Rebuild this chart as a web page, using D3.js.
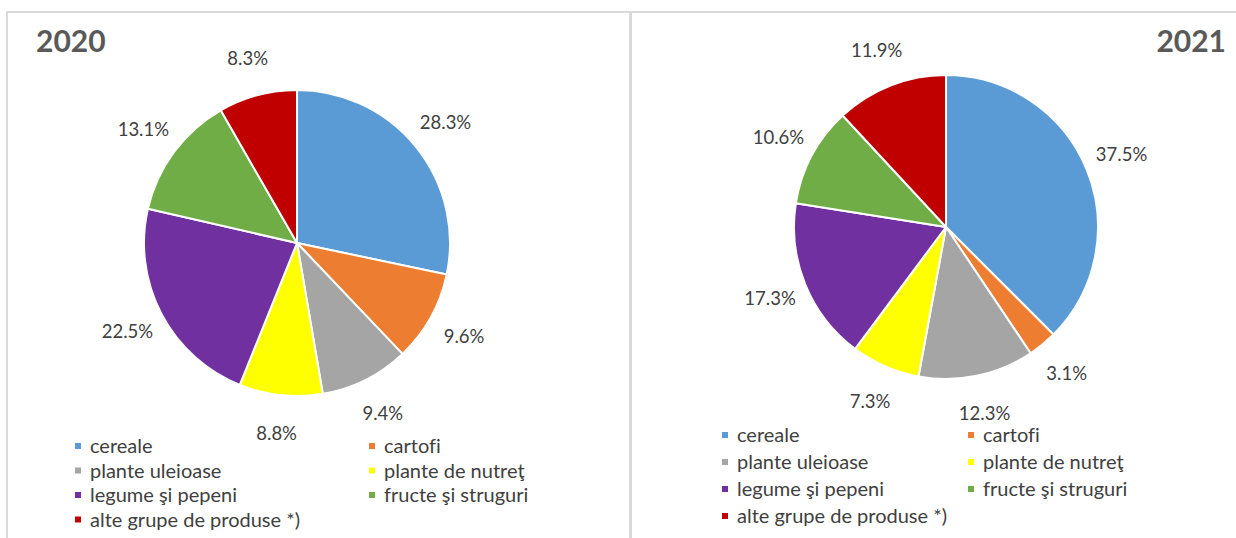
<!DOCTYPE html>
<html>
<head>
<meta charset="utf-8">
<script src="https://cdn.jsdelivr.net/npm/d3@7"></script>
<style>
  html, body { margin: 0; padding: 0; background: #fff; }
  svg { display: block; font-family: Lato, "Open Sans", sans-serif; font-variant-ligatures: none; }
</style>
</head>
<body>
<div id="chart"></div>
<script>
// Kategorien und Werte (Anteile in %)
const categories = ["cereale", "cartofi", "plante uleioase", "plante de nutreţ",
                    "legume şi pepeni", "fructe şi struguri", "alte grupe de produse *)"];
const values2020 = [28.3, 9.6, 9.4, 8.8, 22.5, 13.1, 8.3];
const values2021 = [37.5, 3.1, 12.3, 7.3, 17.3, 10.6, 11.9];
const years = ["2020", "2021"];
const colors = ["#5B9BD5", "#ED7D31", "#A5A5A5", "#FFFF00", "#7030A0", "#70AD47", "#C00000"];

const W = 1236, H = 538;
const svg = d3.select("#chart").append("svg")
    .attr("width", W).attr("height", H);

svg.append("rect").attr("width", W).attr("height", H).attr("fill", "#fff");

// Rahmen
const border = "#d9d9d9";
svg.append("line").attr("x1", 6).attr("x2", W).attr("y1", 12).attr("y2", 12)
    .attr("stroke", border).attr("stroke-width", 2);
svg.append("line").attr("x1", 7).attr("x2", 7).attr("y1", 11).attr("y2", H)
    .attr("stroke", border).attr("stroke-width", 2);
svg.append("line").attr("x1", 630.5).attr("x2", 630.5).attr("y1", 11).attr("y2", H)
    .attr("stroke", border).attr("stroke-width", 3);

const color = d3.scaleOrdinal().domain(categories).range(colors);

const panels = [
    { year: years[0], values: values2020, cx: 297, cy: 243, r: 153,
      titleX: 36, anchor: "start", legX: 75, legY: 446, legStep: 24.5, col2: 369 },
    { year: years[1], values: values2021, cx: 946, cy: 227, r: 152,
      titleX: 1226, anchor: "end", legX: 722, legY: 435, legStep: 27, col2: 968 }
];

const pie = d3.pie().sort(null).value(d => d.v);

panels.forEach(p => {
    const g = svg.append("g").attr("transform", `translate(${p.cx},${p.cy})`);
    const data = pie(categories.map((c, i) => ({ c: c, v: p.values[i] })));
    const arc = d3.arc().innerRadius(0).outerRadius(p.r);
    const labelArc = d3.arc().innerRadius(p.r * 1.25).outerRadius(p.r * 1.25);

    g.selectAll("path").data(data).enter().append("path")
        .attr("d", arc)
        .attr("fill", d => color(d.data.c))
        .attr("stroke", "#fff")
        .attr("stroke-width", 2)
        .attr("stroke-linejoin", "round");

    g.selectAll("text.lbl").data(data).enter().append("text")
        .attr("class", "lbl")
        .attr("transform", d => `translate(${labelArc.centroid(d)})`)
        .attr("text-anchor", "middle")
        .attr("dy", "0.35em")
        .attr("font-size", 18.5)
        .attr("fill", "#404040")
        .text(d => d.data.v.toFixed(1) + "%");

    // Jahr als Titel
    svg.append("text")
        .attr("x", p.titleX).attr("y", 52)
        .attr("text-anchor", p.anchor)
        .attr("font-size", 30)
        .attr("font-weight", "bold")
        .attr("fill", "#595959")
        .text(p.year);

    // Legende, zwei Spalten
    const leg = svg.append("g");
    categories.forEach((c, i) => {
        const x = i % 2 === 0 ? p.legX : p.col2;
        const y = p.legY + Math.floor(i / 2) * p.legStep;
        leg.append("rect")
            .attr("x", x).attr("y", y - 3)
            .attr("width", 6).attr("height", 6)
            .attr("fill", color(c));
        leg.append("text")
            .attr("x", x + 15).attr("y", y)
            .attr("dy", "0.35em")
            .attr("font-size", 20)
            .attr("fill", "#404040")
            .text(c);
    });
});
</script>
</body>
</html>
